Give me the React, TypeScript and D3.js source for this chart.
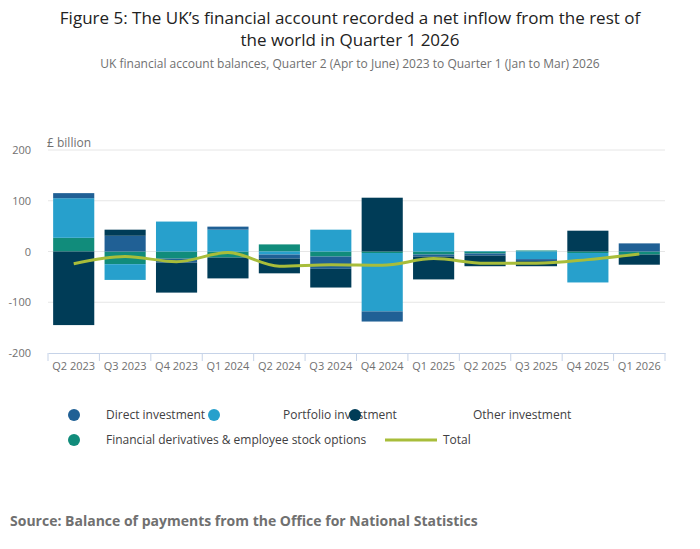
import React, { useEffect, useRef } from 'react';
import * as d3 from 'd3';

const quarters = ['Q2 2023', 'Q3 2023', 'Q4 2023', 'Q1 2024', 'Q2 2024', 'Q3 2024', 'Q4 2024', 'Q1 2025', 'Q2 2025', 'Q3 2025', 'Q4 2025', 'Q1 2026'];
const derivatives = [27, -25, -14, -12, 14, -10, -3, -6, -4, 2, -3, -6];
const portfolio = [78, -31, 59, 43, -6, 43, -115, 37, 1, -15, -58, 0];
const direct = [10, 31, -8, 6, -8, -24, -20, -4, -4, -4, 0, 16];
const other = [-145, 12, -59, -41, -29, -37, 106, -45, -21, -10, 41, -20];
const total = [-24, -10, -20, -2, -29, -26, -27, -14, -23, -23, -16, -5];
const yTicks = [-200, -100, 0, 100, 200];

const series = [
  { key: 'derivatives', values: derivatives, color: '#118c7b' },
  { key: 'portfolio', values: portfolio, color: '#27a0cc' },
  { key: 'direct', values: direct, color: '#206095' },
  { key: 'other', values: other, color: '#003c57' },
];

const App: React.FC = () => {
  const svgRef = useRef<SVGSVGElement | null>(null);

  useEffect(() => {
    const svg = d3.select(svgRef.current!);
    svg.selectAll('*').remove();
    const font = "'Open Sans', sans-serif";
    const left = 48, right = 665, top = 150, bottom = 353;

    const x = d3.scaleBand().domain(quarters).range([left, right]).paddingInner(0.2).paddingOuter(0.1);
    const y = d3.scaleLinear().domain([-200, 200]).range([bottom, top]);

    // grid
    svg.append('g').selectAll('line').data(yTicks.filter(t => t !== -200)).enter().append('line')
      .attr('x1', left).attr('x2', right).attr('y1', d => y(d)).attr('y2', d => y(d))
      .attr('stroke', '#e6e6e6');
    svg.append('g').selectAll('text').data(yTicks).enter().append('text')
      .attr('x', 31).attr('y', d => y(d) + 4).attr('text-anchor', 'end')
      .style('font-family', font).style('font-size', '11px').style('fill', '#707070')
      .text(d => d);
    svg.append('text').attr('x', 47).attr('y', 147).style('font-family', font)
      .style('font-size', '12px').style('fill', '#707070').text('£ billion');

    // stacked bars (diverging)
    quarters.forEach((q, i) => {
      let pos = 0, neg = 0;
      series.forEach(s => {
        const v = s.values[i];
        if (v === 0) return;
        let y0: number, y1: number;
        if (v > 0) { y0 = pos; y1 = pos + v; pos = y1; } else { y0 = neg; y1 = neg + v; neg = y1; }
        svg.append('rect').attr('x', x(q)!).attr('width', x.bandwidth())
          .attr('y', y(Math.max(y0, y1))).attr('height', Math.abs(y(y0) - y(y1)))
          .attr('fill', s.color);
      });
    });

    // axis
    const xAxis = svg.append('g').attr('transform', `translate(0,${bottom})`)
      .call(d3.axisBottom(x).tickSize(0).tickPadding(9));
    xAxis.select('.domain').attr('stroke', '#c6d3e8');
    xAxis.selectAll('text').style('font-family', font).style('font-size', '11px').style('fill', '#707070');
    const step = x.step();
    svg.append('g').selectAll('line').data(d3.range(quarters.length + 1)).enter().append('line')
      .attr('x1', i => left + i * step - (i === 0 ? 0 : 0) + (x(quarters[0])! - left - step * 0.1) )
      .attr('x2', i => left + i * step + (x(quarters[0])! - left - step * 0.1))
      .attr('y1', bottom).attr('y2', bottom + 8).attr('stroke', '#c6d3e8');

    // total line
    const line = d3.line<number>().x((_, i) => x(quarters[i])! + x.bandwidth() / 2).y(d => y(d)).curve(d3.curveMonotoneX);
    svg.append('path').datum(total).attr('d', line).attr('fill', 'none')
      .attr('stroke', '#a8bd3a').attr('stroke-width', 3);

    // legend
    const legend = [
      { label: 'Direct investment', color: '#206095', cx: 74, cy: 415, tx: 106 },
      { label: 'Portfolio investment', color: '#27a0cc', cx: 214, cy: 415, tx: 283 },
      { label: 'Other investment', color: '#003c57', cx: 355, cy: 415, tx: 473 },
      { label: 'Financial derivatives & employee stock options', color: '#118c7b', cx: 74, cy: 440, tx: 106 },
    ];
    legend.forEach(l => {
      svg.append('circle').attr('cx', l.cx).attr('cy', l.cy).attr('r', 6).attr('fill', l.color);
      svg.append('text').attr('x', l.tx).attr('y', l.cy + 4).style('font-family', font)
        .style('font-size', '12px').style('fill', '#414042').text(l.label);
    });
    svg.append('line').attr('x1', 385).attr('x2', 437).attr('y1', 440).attr('y2', 440)
      .attr('stroke', '#a8bd3a').attr('stroke-width', 3);
    svg.append('text').attr('x', 443).attr('y', 444).style('font-family', font)
      .style('font-size', '12px').style('fill', '#414042').text('Total');

    // titles
    svg.append('text').attr('x', 350).attr('y', 24).attr('text-anchor', 'middle').style('font-family', font)
      .style('font-size', '17px').style('fill', '#222').text('Figure 5: The UK’s financial account recorded a net inflow from the rest of');
    svg.append('text').attr('x', 350).attr('y', 46).attr('text-anchor', 'middle').style('font-family', font)
      .style('font-size', '17px').style('fill', '#222').text('the world in Quarter 1 2026');
    svg.append('text').attr('x', 350).attr('y', 68).attr('text-anchor', 'middle').style('font-family', font)
      .style('font-size', '12px').style('fill', '#707070')
      .text('UK financial account balances, Quarter 2 (Apr to June) 2023 to Quarter 1 (Jan to Mar) 2026');
    svg.append('text').attr('x', 10).attr('y', 526).style('font-family', font)
      .style('font-size', '14px').style('font-weight', 'bold').style('fill', '#707070')
      .text('Source: Balance of payments from the Office for National Statistics');
  }, []);

  return <svg ref={svgRef} width={700} height={549} style={{ position: 'absolute', left: 0, top: 0 }} />;
};

export default App;
